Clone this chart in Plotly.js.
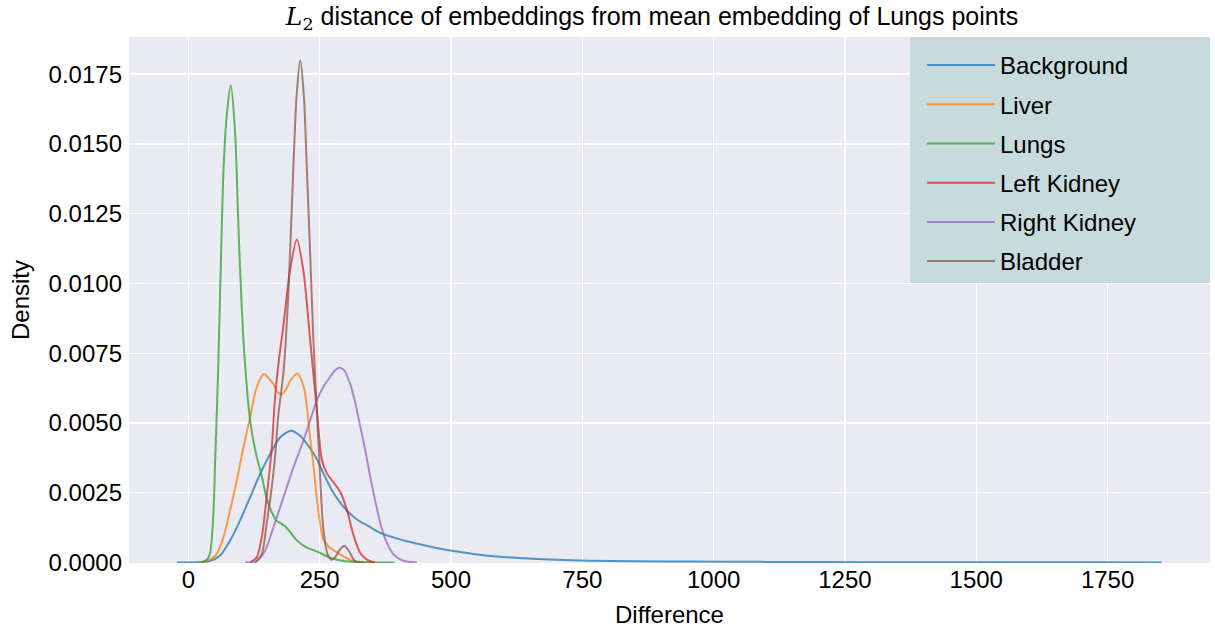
<!DOCTYPE html>
<html>
<head>
<meta charset="utf-8">
<script src="https://cdn.plot.ly/plotly-3.0.1.min.js"></script>
<style>html,body{margin:0;padding:0;background:#fff;}#chart{width:1215px;height:633px;}</style>
</head>
<body>
<div id="chart"></div>
<script>
const seriesNames = ["Background", "Liver", "Lungs", "Left Kidney", "Right Kidney", "Bladder"];
const seriesColors = ["#1f77b4", "#ff7f0e", "#2ca02c", "#d62728", "#9467bd", "#8c564b"];

const backgroundX = [-22, 20, 41, 60, 79.4, 98.4, 117.5, 136.5, 155.5, 174.6, 195.5, 212.7, 228.5, 242, 257, 273, 289, 305, 321, 343, 365, 390, 416, 443, 470, 508, 566, 654, 763, 850, 950, 1100, 1300, 1500, 1700, 1853];
const backgroundY = [0, 0.00001, 0.00005, 0.00024, 0.00078, 0.0015, 0.00233, 0.00317, 0.00388, 0.00448, 0.00472, 0.00454, 0.00418, 0.0038, 0.0032, 0.0026, 0.00214, 0.0018, 0.00154, 0.0013, 0.00106, 0.0009, 0.00076, 0.00064, 0.00053, 0.0004, 0.00025, 0.00013, 0.00006, 0.00004, 0.00003, 0.00002, 0.00001, 0.000006, 0.000003, 0];

const liverX = [20, 28.6, 41, 54, 66.7, 79.4, 92, 104.7, 117.5, 130, 144, 153, 162, 170, 178, 186, 193.6, 207.6, 216, 222, 230.4, 238, 247.7, 257, 266.6, 289, 313.7, 350];
const liverY = [0, 0.00002, 0.0001, 0.0003, 0.0009, 0.00186, 0.00293, 0.0041, 0.0052, 0.00627, 0.00675, 0.0066, 0.00639, 0.0061, 0.00603, 0.0062, 0.0065, 0.00677, 0.0065, 0.0061, 0.0047, 0.0035, 0.0018, 0.00084, 0.00058, 0.00029, 0.00005, 0];

const lungsX = [25, 35, 41, 47.6, 50.8, 54, 57, 62, 67, 73, 80.7, 89, 95, 98.5, 104.7, 108, 114, 120.7, 130, 139.7, 149, 158.8, 168, 176, 184, 193.6, 206, 222, 247.5, 270, 300, 340, 392];
const lungsY = [0, 0.0001, 0.0003, 0.00174, 0.0035, 0.0053, 0.0071, 0.0108, 0.0141, 0.0160, 0.0171, 0.0154, 0.0122, 0.0105, 0.0080, 0.0071, 0.0057, 0.0047, 0.0038, 0.0031, 0.0023, 0.0018, 0.0015, 0.0014, 0.0013, 0.0011, 0.0008, 0.00057, 0.00037, 0.00017, 0.00004, 0.00001, 0];

const leftKidneyX = [117.5, 130, 139.7, 149, 158.8, 165, 171.4, 181, 193.6, 206.4, 219, 231.7, 244.5, 254, 263.5, 279, 290, 301.6, 314, 327, 340, 355];
const leftKidneyY = [0, 0.00018, 0.0009, 0.00233, 0.00412, 0.0059, 0.0071, 0.0085, 0.01046, 0.01157, 0.01046, 0.008, 0.0055, 0.0037, 0.0032, 0.0028, 0.0025, 0.0019, 0.0010, 0.00035, 0.0001, 0];

const rightKidneyX = [108, 130, 146, 162, 181, 200, 219, 231.7, 244.5, 257, 270, 280, 287.5, 296, 308, 318, 327, 337, 347, 357, 367, 378, 390, 409, 435];
const rightKidneyY = [0, 0.00005, 0.00042, 0.00126, 0.00233, 0.00341, 0.00436, 0.00508, 0.0058, 0.0063, 0.00665, 0.0069, 0.00698, 0.0069, 0.0064, 0.0057, 0.0049, 0.0040, 0.0030, 0.0021, 0.0013, 0.0007, 0.0003, 0.00006, 0];

const bladderX = [127, 139.7, 149, 158.8, 165, 171.4, 181, 190, 200, 206, 213, 220, 225.4, 232, 238, 247.7, 257, 265, 273, 280, 288, 297, 306, 317, 330];
const bladderY = [0, 0.0003, 0.00138, 0.00269, 0.00377, 0.0053, 0.0068, 0.0095, 0.0142, 0.0167, 0.0180, 0.0167, 0.0142, 0.0110, 0.0080, 0.0043, 0.0012, 0.0003, 0.0001, 0.0002, 0.00045, 0.0006, 0.0004, 0.00005, 0];

const xTickVals = [0, 250, 500, 750, 1000, 1250, 1500, 1750];
const yTickVals = [0, 0.0025, 0.005, 0.0075, 0.01, 0.0125, 0.015, 0.0175];

const allX = [backgroundX, liverX, lungsX, leftKidneyX, rightKidneyX, bladderX];
const allY = [backgroundY, liverY, lungsY, leftKidneyY, rightKidneyY, bladderY];

const FONT = "'Liberation Sans', Arial, Helvetica, sans-serif";

const traces = seriesNames.map((name, i) => ({
  type: 'scatter',
  mode: 'lines',
  name: name,
  x: allX[i],
  y: allY[i],
  legendgroup: 'g' + i,
  line: {color: seriesColors[i], width: 2, shape: 'spline', smoothing: 0.8},
  opacity: 0.75,
  hoverinfo: 'x+y+name'
}));

const W = 1215, H = 633;
const L = 129, R = 5, T = 37, B = 70;
const pw = W - L - R, ph = H - T - B;

const layout = {
  width: W, height: H,
  margin: {l: L, r: R, t: T, b: B, pad: 0},
  paper_bgcolor: '#ffffff',
  plot_bgcolor: '#eaeaf2',
  font: {family: FONT, size: 24, color: '#000000'},
  title: {
    text: "<span style=\"font-family:'DejaVu Serif'\"><i>L</i><sub>2</sub></span> distance of embeddings from mean embedding of Lungs points",
    font: {family: FONT, size: 25, color: '#000'},
    x: 652 / W, xref: 'container', xanchor: 'center',
    y: 1 - 16 / H, yref: 'container', yanchor: 'middle'
  },
  xaxis: {
    range: [-113, 1945],
    tickvals: xTickVals,
    ticktext: xTickVals.map(v => String(v)),
    showgrid: true, gridcolor: '#ffffff', gridwidth: 1.3,
    zeroline: false, showline: false, ticks: '',
    tickfont: {family: FONT, size: 24, color: '#000'},
    title: {text: 'Difference', font: {family: FONT, size: 24, color: '#000'}, standoff: 14}
  },
  yaxis: {
    range: [-0.00002, 0.01883],
    tickvals: yTickVals,
    ticktext: yTickVals.map(v => v.toFixed(4)),
    showgrid: true, gridcolor: '#ffffff', gridwidth: 1.3,
    zeroline: false, showline: false, ticks: '',
    ticklabelstandoff: 6,
    tickfont: {family: FONT, size: 24, color: '#000'},
    title: {text: 'Density', font: {family: FONT, size: 24, color: '#000'}, standoff: 12}
  },
  shapes: [{
    type: 'rect', xref: 'paper', yref: 'paper', layer: 'above',
    x0: (910 - L) / pw, x1: 1, y0: 1 - (283 - T) / ph, y1: 1,
    fillcolor: '#c7dbdc', line: {width: 0}
  }],
  showlegend: true,
  legend: {
    x: (922 - L) / pw, xanchor: 'left', y: 1 - 6 / ph, yanchor: 'top',
    bgcolor: 'rgba(0,0,0,0)', borderwidth: 0,
    font: {family: FONT, size: 24, color: '#000'},
    tracegroupgap: 5,
    itemwidth: 68,
    traceorder: 'grouped'
  }
};

Plotly.newPlot('chart', traces, layout, {displayModeBar: false, staticPlot: true});
</script>
</body>
</html>
